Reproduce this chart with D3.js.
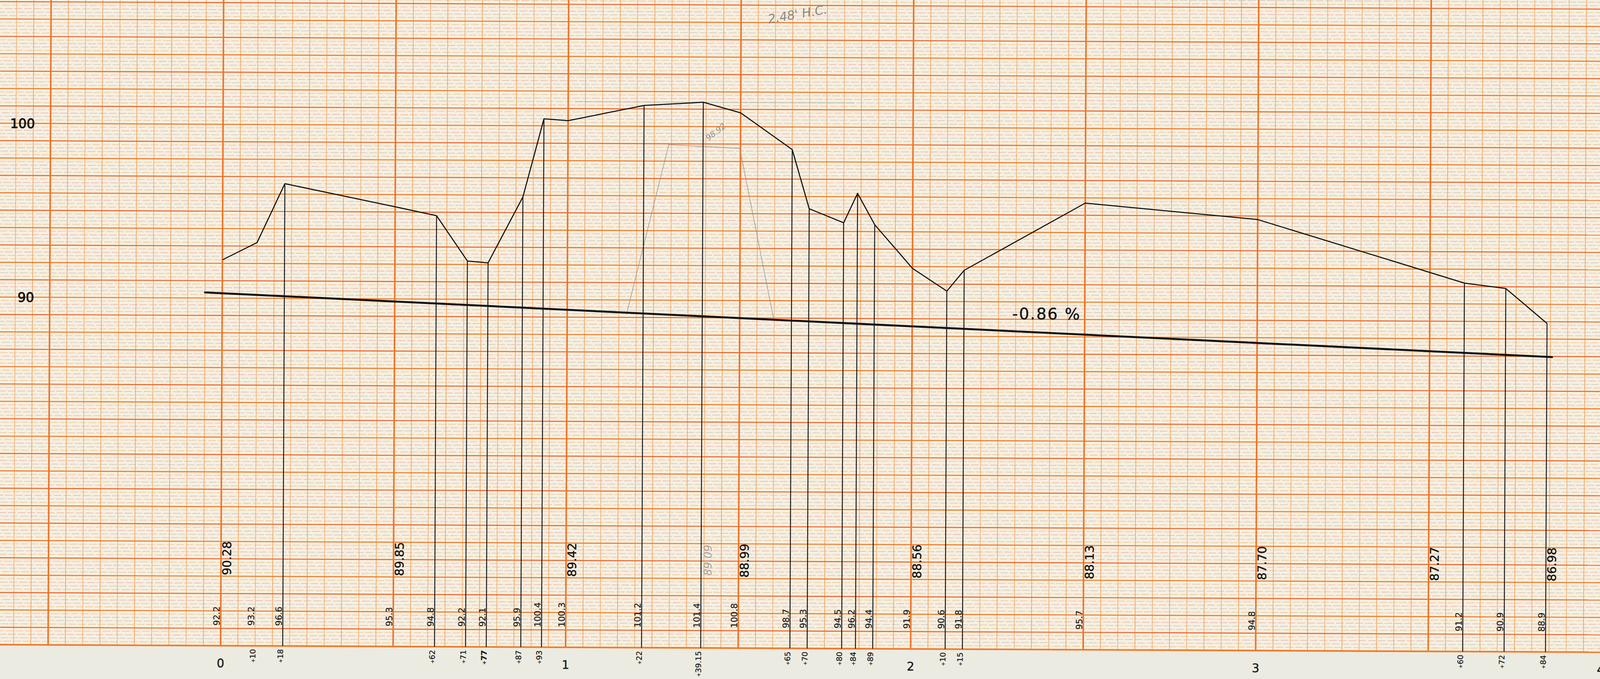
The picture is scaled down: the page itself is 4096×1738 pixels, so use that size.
<!DOCTYPE html>
<html><head><meta charset="utf-8">
<script src="https://cdn.jsdelivr.net/npm/d3@7"></script>
<style>html,body{margin:0;padding:0;background:#ecebe1;overflow:hidden}svg{display:block}</style>
</head><body>
<svg id="c" width="4096" height="1738" viewBox="0 0 4446 1887"></svg>
<script>
// ---------------- data ----------------
const stations   = [0,10,18,50,62,71,77,87,93,100,122,139.15,150,165,170,180,184,189,200,210,215,250,300,360,372,384];
const groundElev = [92.2,93.2,96.6,95.3,94.8,92.2,92.1,95.9,100.4,100.3,101.2,101.4,100.8,98.7,95.3,94.5,96.2,94.4,91.9,90.6,91.8,95.7,94.8,91.2,90.9,88.9];
const dropStations = [18,62,71,77,87,93,122,139.15,165,170,180,184,189,210,215,360,372,384];
const plusStations = [10,18,62,71,77,87,93,122,139.15,165,170,180,184,189,210,215,360,372,384];
const plusLabels   = ["+10","+18","+62","+71","+77","+87","+93","+22","+39.15","+65","+70","+80","+84","+89","+10","+15","+60","+72","+84"];
const gradeStations = [0,50,100,150,200,250,300,350,384];
const gradeLabels   = ["90.28","89.85","89.42","88.99","88.56","88.13","87.70","87.27","86.98"];
const gradeStartElev = 90.28;     // at station 0+00
const gradePercent   = -0.86;     // %
const gradeExtent    = [-5, 385.5];
const gradeText      = "-0.86 %";
const stationNumbers = [0,1,2,3,4];
const yTickLabels    = [100, 90];
// pencil construction (faint)
const pencilSection  = [[117.2,89.19],[129.2,98.95],[149.8,98.75],[159.8,88.98]];
const pencilTopLine  = [[102,101.4],[183,101.4]];
const pencilNotes    = [
  {text:"89.09", st:139.15, el:null},
  {text:"98.92", st:140.7, el:99.17},
  {text:"2.48' H.C.", st:158.0, el:105.95}
];

// ---------------- layout ----------------
const W=4446, H=1887;
const svg = d3.select("#c");
const g = svg.append("g").attr("transform","rotate(0.27)");
const x = d3.scaleLinear().domain([0,400]).range([621,4457]);
const y = d3.scaleLinear().domain([70,100]).range([1791.5,342.5]);
const FONT = "'DejaVu Sans', Verdana, sans-serif";
const yBottom = y(70);

// paper
g.append("rect").attr("x",-300).attr("y",-300).attr("width",W+600).attr("height",yBottom+300).attr("fill","#f5f0e1");

const grid = g.append("g");
// fine horizontal lines every 0.2
const fineColors = ["#f3a662","#c4b0aa","#f0908a","#f5ad6a"];
d3.range(0, 190).forEach(i=>{
  if(i%5===0) return;
  const e = 70 + i/5;
  grid.append("line").attr("x1",-300).attr("x2",W+300).attr("y1",y(e)).attr("y2",y(e))
    .attr("stroke",fineColors[(i%5)-1]).attr("stroke-width",1.5)
    .attr("stroke-dasharray","22 5").attr("stroke-dashoffset",(i*7)%27).attr("opacity",0.72);
});
// minor vertical lines every 5 ft
d3.range(-14, 81).forEach(i=>{
  if(i%10===0) return;
  grid.append("line").attr("x1",x(i*5)).attr("x2",x(i*5)).attr("y1",-300).attr("y2",yBottom)
    .attr("stroke", i%2? "#f4a45c":"#f5b070").attr("stroke-width",2);
});
// thick horizontal lines every 1
d3.range(70, 108).forEach(e=>{
  grid.append("line").attr("x1",-300).attr("x2",W+300).attr("y1",y(e)).attr("y2",y(e))
    .attr("stroke", e%2? "#f0652c":"#f27828").attr("stroke-width",2.9);
});
// major vertical lines every 50 ft
d3.range(-1, 9).forEach(i=>{
  grid.append("line").attr("x1",x(i*50)).attr("x2",x(i*50)).attr("y1",-300).attr("y2",yBottom+1)
    .attr("stroke","#f07222").attr("stroke-width",4.2);
});
// bottom edge
grid.append("line").attr("x1",-300).attr("x2",W+300).attr("y1",yBottom).attr("y2",yBottom)
  .attr("stroke","#f07a2a").attr("stroke-width",4.5);

// pencil construction
const line = d3.line().x(d=>x(d[0])).y(d=>y(d[1]));
g.append("path").attr("d",line(pencilSection)).attr("fill","none")
  .attr("stroke","#8f8f8a").attr("stroke-width",2).attr("opacity",0.75);
g.append("path").attr("d",line(pencilTopLine)).attr("fill","none")
  .attr("stroke","#9a9a95").attr("stroke-width",3).attr("opacity",0.35);

// grade line
const gradeAt = s => gradeStartElev + gradePercent/100*s;
g.append("path").attr("d",line(gradeExtent.map(s=>[s,gradeAt(s)])))
  .attr("fill","none").attr("stroke","#111").attr("stroke-width",5.5).attr("stroke-linecap","round");

// drop lines
dropStations.forEach(s=>{
  const el = groundElev[stations.indexOf(s)];
  g.append("line").attr("x1",x(s)).attr("x2",x(s)).attr("y1",y(el)).attr("y2",yBottom)
    .attr("stroke","#161616").attr("stroke-width",2.6);
});

// ground profile
g.append("path").attr("d",line(stations.map((s,i)=>[s,groundElev[i]])))
  .attr("fill","none").attr("stroke","#121212").attr("stroke-width",3).attr("stroke-linejoin","round");

// ink text helper (pen weight)
const ink = (sel, w) => sel.attr("stroke","#151515").attr("stroke-width",w).attr("paint-order","stroke");

// ground elevation labels
const fmt1 = d3.format(".1f");
const groundLabelY = yBottom - 56;
stations.forEach((s,i)=>{
  ink(g.append("text").attr("transform",`translate(${x(s)-3},${groundLabelY}) rotate(-90)`)
    .attr("font-family",FONT).attr("font-size",24).attr("fill","#1e1e1e")
    .text(fmt1(groundElev[i])), 0.4);
});
// grade elevation labels
const gradeLabelY = yBottom - 196;
gradeStations.forEach((s,i)=>{
  ink(g.append("text").attr("transform",`translate(${x(s)+28},${gradeLabelY}) rotate(-90)`)
    .attr("font-family",FONT).attr("font-size",33).attr("fill","#141414")
    .text(gradeLabels[i]), 0.7);
});
// plus station labels
const plusY = yBottom + 9;
plusStations.forEach((s,i)=>{
  const t = g.append("text").attr("transform",`translate(${x(s)+1},${plusY}) rotate(-90)`)
    .attr("font-family",FONT).attr("font-size",21).attr("fill","#1a1a1a")
    .attr("text-anchor","end").attr("font-weight", plusLabels[i]==="+77"?"bold":"normal");
  ink(t, 0.4);
  t.append("tspan").attr("font-size",13).attr("dy",-2).text("+");
  t.append("tspan").attr("dy",2).text(plusLabels[i].slice(1));
});
// station numbers
stationNumbers.forEach(n=>{
  ink(g.append("text").attr("x",x(n*100)).attr("y",yBottom+60)
    .attr("font-family",FONT).attr("font-size",33).attr("fill","#1a1a1a")
    .attr("text-anchor","middle").text(n), 0.6);
});
// y labels
yTickLabels.forEach(v=>{
  ink(g.append("text").attr("x",98).attr("y",y(v)).attr("dy","0.36em")
    .attr("font-family",FONT).attr("font-size",36).attr("fill","#151515")
    .attr("text-anchor","end").text(v), 1.4);
});
// grade percentage
ink(g.append("text").attr("x",x(229)).attr("y",y(89.0))
  .attr("font-family",FONT).attr("font-size",44).attr("fill","#151515")
  .attr("letter-spacing",3).text(gradeText), 0.6);

// pencil notes
const pn = pencilNotes;
g.append("text").attr("transform",`translate(${x(pn[0].st)+29},${gradeLabelY-5}) rotate(-90)`)
  .attr("font-family",FONT).attr("font-style","italic").attr("font-size",30).attr("fill","#a3a39e")
  .text(pn[0].text);
g.append("text").attr("transform",`translate(${x(pn[1].st)},${y(pn[1].el)}) rotate(-38)`)
  .attr("font-family",FONT).attr("font-style","italic").attr("font-size",22).attr("fill","#8e8e8a")
  .text(pn[1].text);
g.append("text").attr("transform",`translate(${x(pn[2].st)},${y(pn[2].el)}) rotate(-10)`)
  .attr("font-family",FONT).attr("font-style","italic").attr("font-size",34).attr("fill","#878985")
  .text(pn[2].text);
</script>
</body></html>
